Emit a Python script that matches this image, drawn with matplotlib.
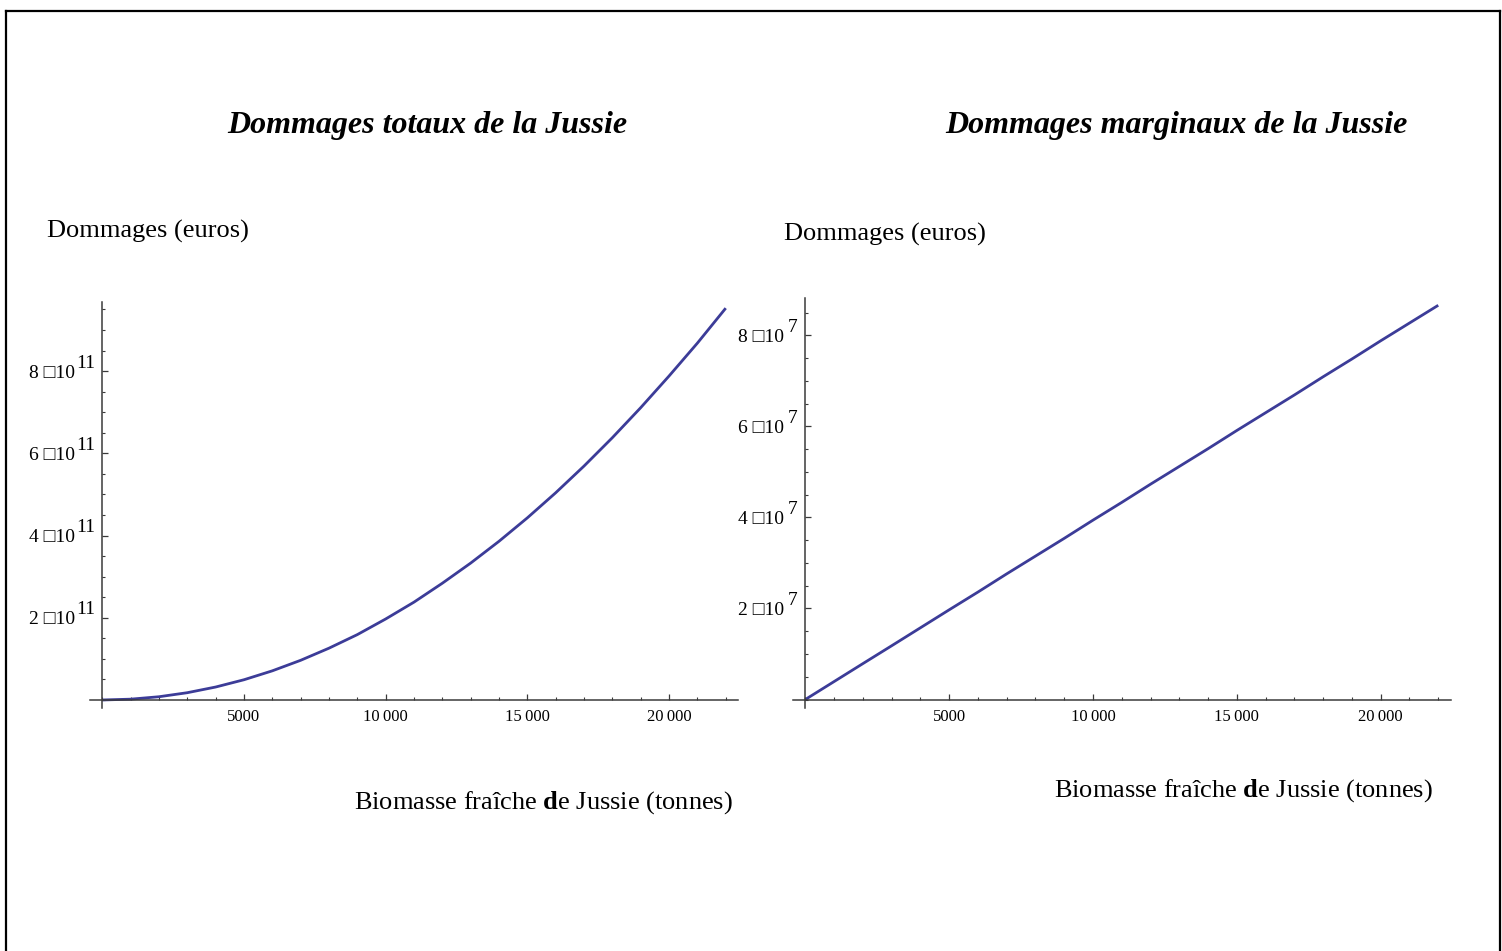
import matplotlib
matplotlib.use("Agg")
import matplotlib.pyplot as plt
from matplotlib.ticker import FixedLocator, MultipleLocator
from matplotlib.lines import Line2D
from matplotlib.transforms import offset_copy

plt.rcParams["font.family"] = ["Liberation Serif", "DejaVu Serif"]
plt.rcParams["mathtext.fontset"] = "custom"
plt.rcParams["mathtext.rm"] = "Liberation Serif"
plt.rcParams["mathtext.it"] = "Liberation Serif:italic"
plt.rcParams["mathtext.bf"] = "Liberation Serif:bold"

# Biomass (tonnes) and the damage functions evaluated on it
biomasse = [0, 1000, 2000, 3000, 4000, 5000, 6000, 7000, 8000, 9000, 10000,
            11000, 12000, 13000, 14000, 15000, 16000, 17000, 18000, 19000,
            20000, 21000, 22000]
dommages_totaux = [0, 1.97e9, 7.88e9, 1.77e10, 3.15e10, 4.92e10, 7.09e10,
                   9.65e10, 1.26e11, 1.59e11, 1.97e11, 2.38e11, 2.84e11,
                   3.33e11, 3.86e11, 4.43e11, 5.04e11, 5.69e11, 6.38e11,
                   7.11e11, 7.88e11, 8.68e11, 9.53e11]
dommages_marginaux = [0, 3.94e6, 7.88e6, 1.18e7, 1.575e7, 1.97e7, 2.36e7,
                      2.76e7, 3.15e7, 3.54e7, 3.94e7, 4.33e7, 4.73e7, 5.12e7,
                      5.51e7, 5.91e7, 6.30e7, 6.69e7, 7.09e7, 7.48e7, 7.88e7,
                      8.27e7, 8.66e7]

x_ticks = [5000, 10000, 15000, 20000]
x_tick_labels = ["5000", "10\u2009000", "15\u2009000", "20\u2009000"]

y_ticks_totaux = [2e11, 4e11, 6e11, 8e11]
y_labels_totaux = ["2 \u25a110", "4 \u25a110", "6 \u25a110", "8 \u25a110"]
y_exposants_totaux = ["11", "11", "11", "11"]
y_ticks_marginaux = [2e7, 4e7, 6e7, 8e7]
y_labels_marginaux = ["2 \u25a110", "4 \u25a110", "6 \u25a110", "8 \u25a110"]
y_exposants_marginaux = ["7", "7", "7", "7"]

titre_totaux = "Dommages totaux de la Jussie"
titre_marginaux = "Dommages marginaux de la Jussie"
label_y = "Dommages (euros)"
label_x = "Biomasse fra\u00eeche $\\mathbf{d}$e Jussie (tonnes)"

W, H = 1502, 951
fig = plt.figure(figsize=(W / 100, H / 100), dpi=100)
fig.patch.set_facecolor("white")

line_color = "#3c3c98"
axis_color = "#3a3a3a"


def px_rect(x0, x1, y_top, y_bot):
    return [x0 / W, 1 - y_bot / H, (x1 - x0) / W, (y_bot - y_top) / H]


def style_axes(ax, yticks, ylabels, exposants, yminor, ypad, exp_dx):
    for side in ("top", "right"):
        ax.spines[side].set_visible(False)
    for side in ("left", "bottom"):
        ax.spines[side].set_position(("data", 0))
        ax.spines[side].set_color(axis_color)
        ax.spines[side].set_linewidth(1.1)
    ax.xaxis.set_major_locator(FixedLocator(x_ticks))
    ax.set_xticklabels(x_tick_labels)
    ax.xaxis.set_minor_locator(MultipleLocator(1000))
    ax.yaxis.set_major_locator(FixedLocator(yticks))
    ax.set_yticklabels(ylabels)
    ax.yaxis.set_minor_locator(MultipleLocator(yminor))
    ax.tick_params(which="major", direction="in", length=4.2, width=0.9,
                   color=axis_color)
    ax.tick_params(which="minor", direction="in", length=2.4, width=0.8,
                   color=axis_color)
    ax.tick_params(axis="x", which="major", labelsize=12, pad=6.5)
    ax.tick_params(axis="y", which="major", labelsize=14, pad=ypad)
    # exponents of the power-of-ten tick labels, raised beside the base
    tr = offset_copy(ax.transData, fig=fig, x=exp_dx, y=8, units="dots")
    for t, e in zip(yticks, exposants):
        ax.text(0, t, e, transform=tr, ha="left", va="center", fontsize=14,
                clip_on=False)
    ax.set_facecolor("none")


# Total damages
ax1 = fig.add_axes(px_rect(89.8, 738.2, 302, 708))
ax1.plot(biomasse, dommages_totaux, color=line_color, lw=2.0,
         solid_capstyle="butt")
ax1.set_xlim(-440, 22440)
ax1.set_ylim(-1.95e10, 9.68e11)
style_axes(ax1, y_ticks_totaux, y_labels_totaux, y_exposants_totaux,
           5e10, 19.5, -26.5)

# Marginal damages
ax2 = fig.add_axes(px_rect(792.6, 1450.9, 298, 707.5))
ax2.plot(biomasse, dommages_marginaux, color=line_color, lw=2.0,
         solid_capstyle="butt")
ax2.set_xlim(-440, 22440)
ax2.set_ylim(-1.75e6, 8.82e7)
style_axes(ax2, y_ticks_marginaux, y_labels_marginaux, y_exposants_marginaux,
           5e6, 15, -18)

# Titles and axis captions
fig.text(427 / W, 1 - 125 / H, titre_totaux, fontsize=23, fontweight="bold",
         fontstyle="italic", ha="center", va="center")
fig.text(1176 / W, 1 - 125 / H, titre_marginaux, fontsize=23,
         fontweight="bold", fontstyle="italic", ha="center", va="center")
fig.text(47 / W, 1 - 231 / H, label_y, fontsize=19, ha="left", va="center")
fig.text(784 / W, 1 - 234 / H, label_y, fontsize=19, ha="left", va="center")
fig.text(543.5 / W, 1 - 803 / H, label_x, fontsize=19, ha="center",
         va="center")
fig.text(1243.5 / W, 1 - 791 / H, label_x, fontsize=19, ha="center",
         va="center")

# Page frame
frame_kw = dict(color="black", lw=1.6, transform=fig.transFigure)
x_l, x_r, y_t = 5.5 / W, 1499.5 / W, 1 - 10.5 / H
fig.add_artist(Line2D([x_l, x_l], [-0.01, y_t], **frame_kw))
fig.add_artist(Line2D([x_r, x_r], [-0.01, y_t], **frame_kw))
fig.add_artist(Line2D([x_l, x_r], [y_t, y_t], **frame_kw))

fig.savefig("out.png", dpi=100, facecolor="white")
